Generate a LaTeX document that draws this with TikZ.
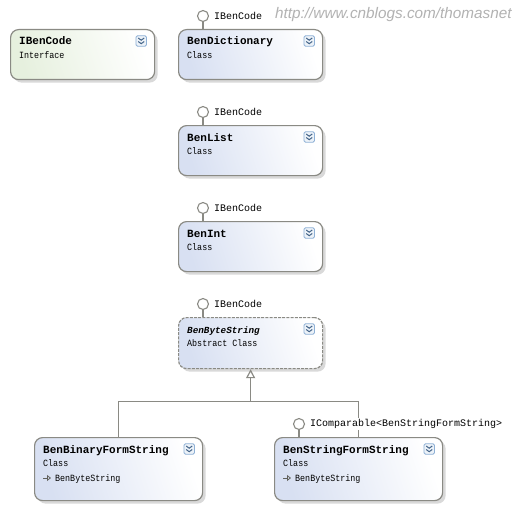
\documentclass[tikz,border=0pt]{standalone}
\usepackage{fontspec}
\setmainfont{Liberation Mono}
\newfontfamily\wmfont{Liberation Sans}
\newfontfamily\narrowmono[FakeStretch=.88]{Liberation Mono}
\usetikzlibrary{shadows,arrows.meta,calc}
\definecolor{edge}{HTML}{8A8A84}
\definecolor{classblue}{HTML}{D8E0F2}
\definecolor{ifacegreen}{HTML}{E6F0DE}
\definecolor{iconblue}{HTML}{5F8FC4}
\tikzset{
  x=1pt,y=-1pt,
  classbox/.style={draw=edge,line width=1.2pt,rounded corners=8pt,inner sep=0pt,anchor=north west,
    left color=classblue,right color=white,shading angle=108,
    general shadow={shadow xshift=3pt,shadow yshift=-3pt,fill=black!15}},
  ifacebox/.style={classbox,left color=ifacegreen,right color=white,shading angle=108},
  absbox/.style={classbox,dash pattern=on 3pt off 1.2pt},
  titletext/.style={inner sep=0pt,anchor=base west,font=\fontsize{11}{11}\selectfont\bfseries},
  abstitle/.style={inner sep=0pt,anchor=base west,font=\fontsize{9.3}{11}\selectfont\bfseries\itshape},
  subtext/.style={inner sep=0pt,anchor=base west,font=\narrowmono\fontsize{9.5}{10}\selectfont},
  lolli/.style={draw=edge,line width=1.1pt,fill=white,circle,minimum size=11pt,inner sep=0pt},
  stem/.style={draw=edge,line width=1.2pt},
  lollilabel/.style={inner sep=1pt,anchor=west,font=\fontsize{10}{10}\selectfont,fill=white},
  gen/.style={draw=edge,line width=1.2pt,-{Triangle[open,length=9pt,width=9pt,fill=white]}},
  iconbox/.style={draw=iconblue!70,fill=iconblue!12,rounded corners=1.5pt,line width=.8pt,minimum size=10.5pt,inner sep=0pt},
  chev/.style={draw=iconblue!70!black,line width=1pt},
  wm/.style={inner sep=0pt,anchor=base west,text=black!30,font=\wmfont\fontsize{15.3}{17}\selectfont\itshape}
}
\newcommand{\umlbox}[6]{%
  \node[#6,minimum width=#4pt,minimum height=#5pt] (#1) at (#2,#3) {};
  \node[iconbox] (#1icon) at ($(#1.north east)+(-14,12)$) {};
  \draw[chev] ($(#1icon.center)+(-3,-3)$) -- ($(#1icon.center)+(0,-.8)$) -- ($(#1icon.center)+(3,-3)$);
  \draw[chev] ($(#1icon.center)+(-3,.5)$) -- ($(#1icon.center)+(0,2.7)$) -- ($(#1icon.center)+(3,.5)$);
}
\newcommand{\umltext}[4]{%
  \node[#4] at ($(#1.north west)+(9,16)$) {#2};
  \node[subtext] at ($(#1.north west)+(9,29.5)$) {#3};
}
\newcommand{\umlbase}[1]{%
  \coordinate (#1arr) at ($(#1.north west)+(9,41)$);
  \draw[edge!70!black,line width=.8pt,-{Triangle[open,length=4pt,width=6pt]}] (#1arr) -- ++(8,0);
  \node[subtext] at ($(#1.north west)+(21,44.5)$) {BenByteString};
}
\newcommand{\umlface}[4]{%
  \node[lolli] (#2) at ($(#1.north west)+(#3,-13)$) {};
  \draw[stem] (#2) -- (#2 |- #1.north);
  \node[lollilabel] at ($(#2.center)+(10,0)$) {#4};
}
\begin{document}
\begin{tikzpicture}
\useasboundingbox (0,0) rectangle (521,508);
\fill[white] (0,0) rectangle (521,508);
\node[wm] (wmark) at (275,19) {http://www.cnblogs.com/thomasnet};

\umlbox{iface}{10}{29}{144}{50}{ifacebox}
\umlbox{dict}{178}{29}{144}{50}{classbox}
\umlbox{list}{178}{125}{144}{50}{classbox}
\umlbox{int}{178}{221}{144}{50}{classbox}
\umlbox{byte}{178}{317}{144}{51}{absbox}
\umlbox{bin}{34}{437}{168}{63}{classbox}
\umlbox{str}{274}{437}{168}{63}{classbox}

\coordinate (junc) at (byte.south |- 0,401.5);
\draw[edge,line width=1.2pt] (bin.north) |- (str.north |- junc) -- (str.north);
\draw[gen] (junc) -- (byte.south);

\umltext{iface}{IBenCode}{Interface}{titletext}
\umltext{dict}{BenDictionary}{Class}{titletext}
\umltext{list}{BenList}{Class}{titletext}
\umltext{int}{BenInt}{Class}{titletext}
\umltext{byte}{BenByteString}{Abstract Class}{abstitle}
\umltext{bin}{BenBinaryFormString}{Class}{titletext}
\umltext{str}{BenStringFormString}{Class}{titletext}
\umlbase{bin}
\umlbase{str}

\umlface{dict}{ld}{25}{IBenCode}
\umlface{list}{ll}{25}{IBenCode}
\umlface{int}{li}{25}{IBenCode}
\umlface{byte}{lb}{25}{IBenCode}
\umlface{str}{ls}{25}{IComparable<BenStringFormString>}
\end{tikzpicture}
\end{document}
